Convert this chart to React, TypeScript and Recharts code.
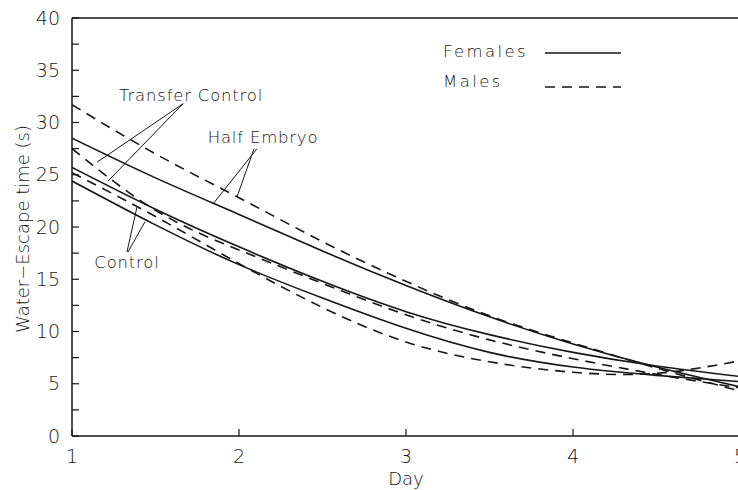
import { LineChart, Line, XAxis, YAxis, ReferenceLine, ReferenceDot, Legend, Label } from "recharts";

const INK = "#161616";
const FONT = "'DejaVu Sans', sans-serif";
const WEIGHT = 200;

// days of the training
const DAYS = [1, 1.5, 2, 2.5, 3, 3.5, 4, 4.5, 5];
// fitted escape times (s)
const HALF_EMBRYO_F = [28.5, 24.7, 21.2, 17.7, 14.4, 11.4, 8.8, 6.6, 4.7];
const HALF_EMBRYO_M = [31.7, 27.0, 22.8, 18.6, 14.8, 11.5, 8.9, 6.5, 4.3];
const TRANSFER_F = [25.7, 21.7, 18.1, 14.8, 11.9, 9.7, 8.0, 6.7, 5.7];
const TRANSFER_M = [27.5, 21.6, 17.8, 14.6, 11.6, 9.2, 7.4, 5.9, 4.6];
const CONTROL_F = [24.4, 20.2, 16.4, 13.2, 10.3, 8.0, 6.6, 5.8, 5.2];
const CONTROL_M = [25.2, 21.0, 16.5, 12.3, 9.0, 7.1, 6.1, 6.0, 7.2];

const X_TICKS = [1, 2, 3, 4, 5];
const Y_TICKS = [0, 2.5, 5, 7.5, 10, 12.5, 15, 17.5, 20, 22.5, 25, 27.5, 30, 32.5, 35, 37.5, 40];

// group labels [day, value] and their pointer lines
const LABELS = [
  { text: "Transfer Control", day: 1.713, value: 32.6 },
  { text: "Half Embryo", day: 2.144, value: 28.6 },
  { text: "Control", day: 1.329, value: 16.65 },
];
const POINTERS = [
  [1.665, 31.8, 1.15, 26.2],
  [1.665, 31.8, 1.216, 24.4],
  [2.108, 27.5, 1.844, 22.2],
  [2.09, 27.5, 1.988, 22.87],
  [1.329, 17.6, 1.389, 21.9],
  [1.335, 17.6, 1.437, 20.5],
];

const SERIES = [
  { key: "heF", values: HALF_EMBRYO_F, dashed: false },
  { key: "heM", values: HALF_EMBRYO_M, dashed: true },
  { key: "tcF", values: TRANSFER_F, dashed: false },
  { key: "tcM", values: TRANSFER_M, dashed: true },
  { key: "cF", values: CONTROL_F, dashed: false },
  { key: "cM", values: CONTROL_M, dashed: true },
];

const chartData = DAYS.map((day, i) => {
  const row: Record<string, number> = { day };
  SERIES.forEach((s) => (row[s.key] = s.values[i]));
  return row;
});

const DASH = "10 7";

function SexLegend() {
  return (
    <svg width={200} height={60} style={{ display: "block" }}>
      <g fontFamily={FONT} fontWeight={WEIGHT} fontSize={16.5} fill={INK} letterSpacing={2.4}>
        <text x={3} y={19}>Females</text>
        <text x={3} y={49}>Males</text>
      </g>
      <line x1={105} x2={181} y1={15} y2={15} stroke={INK} strokeWidth={1.5} />
      <line x1={105} x2={181} y1={49} y2={49} stroke={INK} strokeWidth={1.5} strokeDasharray={DASH} />
    </svg>
  );
}

export default function App() {
  const tickStyle = { fontSize: 19, fill: INK, fontFamily: FONT, fontWeight: WEIGHT };
  return (
    <div
      style={{
        position: "fixed",
        left: 0,
        top: 0,
        width: 738,
        height: 490,
        overflow: "hidden",
        background: "#fff",
      }}
    >
      <LineChart
        width={780}
        height={490}
        data={chartData}
        margin={{ top: 17, right: 30, left: 0, bottom: 24 }}
      >
        <XAxis
          xAxisId="b"
          dataKey="day"
          type="number"
          domain={[1, 5]}
          ticks={X_TICKS}
          allowDataOverflow
          height={30}
          tickSize={-7}
          tickMargin={21}
          tick={tickStyle}
          axisLine={{ stroke: INK, strokeWidth: 1.5 }}
          tickLine={{ stroke: INK, strokeWidth: 1.2 }}
        >
          <Label
            content={({ viewBox }: any) => (
              <text
                x={viewBox.x + viewBox.width / 2}
                y={485}
                textAnchor="middle"
                fontFamily={FONT}
                fontWeight={WEIGHT}
                fontSize={18}
                fill={INK}
              >
                Day
              </text>
            )}
          />
        </XAxis>
        <XAxis
          xAxisId="t"
          orientation="top"
          dataKey="day"
          type="number"
          domain={[1, 5]}
          ticks={X_TICKS}
          allowDataOverflow
          height={1}
          tickSize={-7}
          tick={false}
          axisLine={{ stroke: INK, strokeWidth: 1.5 }}
          tickLine={{ stroke: INK, strokeWidth: 1.2 }}
        />
        <YAxis
          yAxisId="l"
          type="number"
          domain={[0, 40]}
          ticks={Y_TICKS}
          allowDataOverflow
          width={72}
          tickSize={-7}
          tickMargin={19}
          tick={tickStyle}
          tickFormatter={(v: number) => (v % 5 === 0 ? String(v) : "")}
          axisLine={{ stroke: INK, strokeWidth: 1.5 }}
          tickLine={{ stroke: INK, strokeWidth: 1.2 }}
        >
          <Label
            content={({ viewBox }: any) => {
              const x = viewBox.x + 22;
              const y = viewBox.y + viewBox.height / 2 + 2;
              return (
                <text
                  x={x}
                  y={y}
                  transform={`rotate(-90, ${x}, ${y})`}
                  textAnchor="middle"
                  dominantBaseline="central"
                  fontFamily={FONT}
                  fontWeight={WEIGHT}
                  fontSize={18}
                  fill={INK}
                >
                  Water−Escape time (s)
                </text>
              );
            }}
          />
        </YAxis>
        <YAxis
          yAxisId="r"
          orientation="right"
          type="number"
          domain={[0, 40]}
          ticks={Y_TICKS}
          allowDataOverflow
          width={10}
          tickSize={-7}
          tick={false}
          axisLine={{ stroke: INK, strokeWidth: 1.5 }}
          tickLine={{ stroke: INK, strokeWidth: 1.2 }}
        />
        <Legend
          layout="vertical"
          align="center"
          verticalAlign="middle"
          wrapperStyle={{ left: 440, top: 38, width: 200 }}
          content={() => <SexLegend />}
        />
        {SERIES.map((s) => (
          <Line
            key={s.key}
            xAxisId="b"
            yAxisId="l"
            dataKey={s.key}
            type="natural"
            stroke={INK}
            strokeWidth={1.6}
            strokeDasharray={s.dashed ? DASH : undefined}
            dot={false}
            activeDot={false}
            isAnimationActive={false}
          />
        ))}
        {POINTERS.map(([x1, y1, x2, y2], i) => (
          <ReferenceLine
            key={`p${i}`}
            xAxisId="b"
            yAxisId="l"
            segment={[
              { x: x1, y: y1 },
              { x: x2, y: y2 },
            ]}
            stroke={INK}
            strokeWidth={1}
          />
        ))}
        {LABELS.map((l) => (
          <ReferenceDot
            key={l.text}
            xAxisId="b"
            yAxisId="l"
            x={l.day}
            y={l.value}
            r={0}
            fill="none"
            stroke="none"
            label={{
              value: l.text,
              position: "center",
              fontSize: 16.5,
              fontWeight: WEIGHT,
              fill: INK,
              fontFamily: FONT,
              letterSpacing: 0.8,
            }}
          />
        ))}
      </LineChart>
    </div>
  );
}
